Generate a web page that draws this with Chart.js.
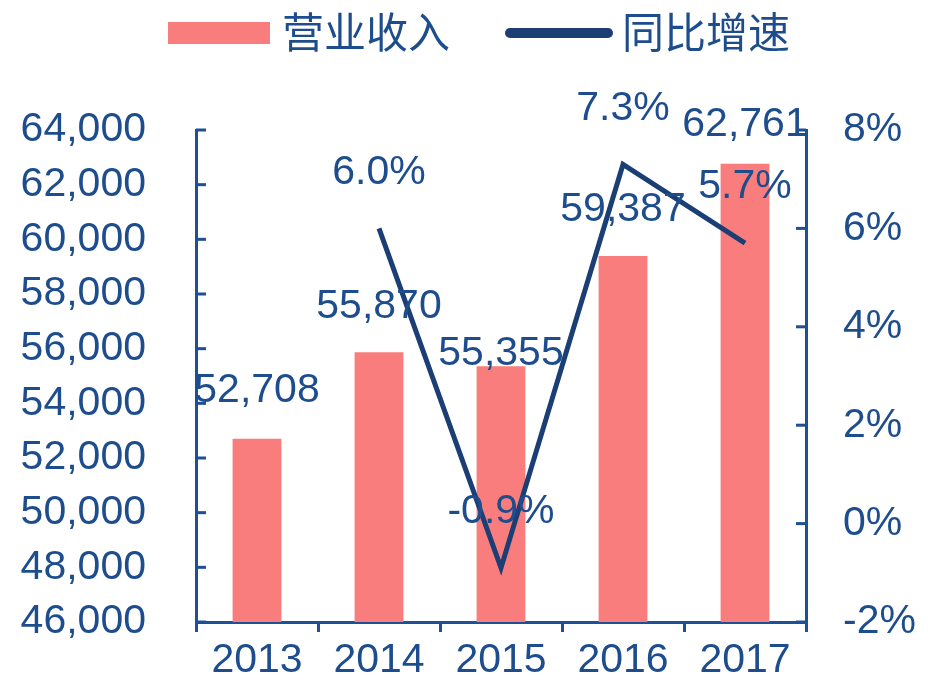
<!DOCTYPE html>
<html>
<head>
<meta charset="utf-8">
<script src="https://cdn.jsdelivr.net/npm/chart.js@4/dist/chart.umd.min.js"></script>
<style>
  html, body { margin: 0; padding: 0; background: #fff; }
  #wrap { width: 932px; height: 684px; position: relative; }
</style>
</head>
<body>
<div id="wrap"><canvas id="combo"></canvas></div>
<script>
var years = ['2013', '2014', '2015', '2016', '2017'];
var revenue = [52708, 55870, 55355, 59387, 62761];
var growth = [null, 6.0, -0.9, 7.3, 5.7];
var revenueName = '营业收入';
var growthName = '同比增速';

var barColor = '#FA7D7D';
var lineColor = '#1B3F75';
var textColor = '#1E4D8E';
var axisColor = '#1F4F96';
var bigFont = '41px "Liberation Sans", Arial, sans-serif';
var cjkFont = '42px "Noto Sans CJK SC", sans-serif';

// how far above the mark each value label sits
var barLabelLift = [48, 46, 13, 46, 39];
var lineLabelLift = 56;

var labelsPlugin = {
    id: 'labels',
    afterDatasetsDraw: function(chart) {
        var ctx = chart.ctx;
        ctx.save();
        ctx.font = bigFont;
        ctx.fillStyle = textColor;
        ctx.textAlign = 'center';
        ctx.textBaseline = 'middle';
        chart.getDatasetMeta(0).data.forEach(function(bar, i) {
            ctx.fillText(revenue[i].toLocaleString('en-US'), bar.x, bar.y - barLabelLift[i]);
        });
        chart.getDatasetMeta(1).data.forEach(function(pt, i) {
            if (growth[i] === null) return;
            ctx.fillText(growth[i].toFixed(1) + '%', pt.x, pt.y - lineLabelLift);
        });
        ctx.restore();
    },
    afterDraw: function(chart) {
        var ctx = chart.ctx;
        var area = chart.chartArea;
        ctx.save();
        // inward tick marks on both value axes
        ctx.strokeStyle = axisColor;
        ctx.lineWidth = 3;
        var ys = chart.scales.y, yr = chart.scales.y1;
        ys.ticks.forEach(function(t, i) {
            var y = ys.getPixelForTick(i);
            ctx.beginPath(); ctx.moveTo(area.left, y); ctx.lineTo(area.left + 10, y); ctx.stroke();
        });
        yr.ticks.forEach(function(t, i) {
            var y = yr.getPixelForTick(i);
            ctx.beginPath(); ctx.moveTo(area.right, y); ctx.lineTo(area.right - 10, y); ctx.stroke();
        });
        // legend
        ctx.fillStyle = barColor;
        ctx.fillRect(168, 22, 102, 22);
        ctx.strokeStyle = lineColor;
        ctx.lineWidth = 10;
        ctx.lineCap = 'round';
        ctx.beginPath(); ctx.moveTo(510, 33); ctx.lineTo(608, 33); ctx.stroke();
        ctx.font = cjkFont;
        ctx.fillStyle = textColor;
        ctx.textAlign = 'left';
        ctx.textBaseline = 'middle';
        ctx.fillText(revenueName, 282, 32);
        ctx.fillText(growthName, 622, 32);
        ctx.restore();
    }
};

function noPad(s) {
    s.paddingTop = 0; s.paddingBottom = 0; s.paddingLeft = 0; s.paddingRight = 0;
}

var tickFont = { family: '"Liberation Sans", Arial', size: 41 };

var ctx = document.getElementById('combo').getContext('2d');
var myChart = new Chart(ctx, {
    type: 'bar',
    data: {
        labels: years,
        datasets: [{
            label: revenueName,
            data: revenue,
            backgroundColor: barColor,
            barPercentage: 0.4,
            categoryPercentage: 1,
            yAxisID: 'y',
            order: 2
        }, {
            type: 'line',
            label: growthName,
            data: growth,
            borderColor: lineColor,
            borderWidth: 5,
            pointRadius: 0,
            tension: 0,
            yAxisID: 'y1',
            order: 1
        }]
    },
    options: {
        responsive: true,
        maintainAspectRatio: false,
        animation: false,
        layout: { padding: { top: 130 } },
        plugins: {
            legend: { display: false },
            tooltip: { enabled: false }
        },
        scales: {
            x: {
                afterFit: function(s) { s.height = 62; noPad(s); },
                border: { color: axisColor, width: 3 },
                grid: { drawOnChartArea: false, drawTicks: true, tickLength: 10, color: axisColor, lineWidth: 3 },
                ticks: { color: textColor, font: tickFont, padding: 4 }
            },
            y: {
                position: 'left',
                min: 46000,
                max: 64000,
                afterFit: function(s) { s.width = 196; noPad(s); },
                border: { color: axisColor, width: 3 },
                grid: { display: true, drawOnChartArea: false, drawTicks: false },
                ticks: {
                    stepSize: 2000,
                    padding: 50,
                    color: textColor,
                    font: tickFont,
                    callback: function(v) { return v.toLocaleString('en-US'); }
                }
            },
            y1: {
                position: 'right',
                min: -2,
                max: 8,
                afterFit: function(s) { s.width = 126; noPad(s); },
                border: { color: axisColor, width: 3 },
                grid: { display: true, drawOnChartArea: false, drawTicks: false },
                ticks: {
                    stepSize: 2,
                    padding: 37,
                    color: textColor,
                    font: tickFont,
                    callback: function(v) { return v + '%'; }
                }
            }
        }
    },
    plugins: [labelsPlugin]
});
</script>
</body>
</html>
